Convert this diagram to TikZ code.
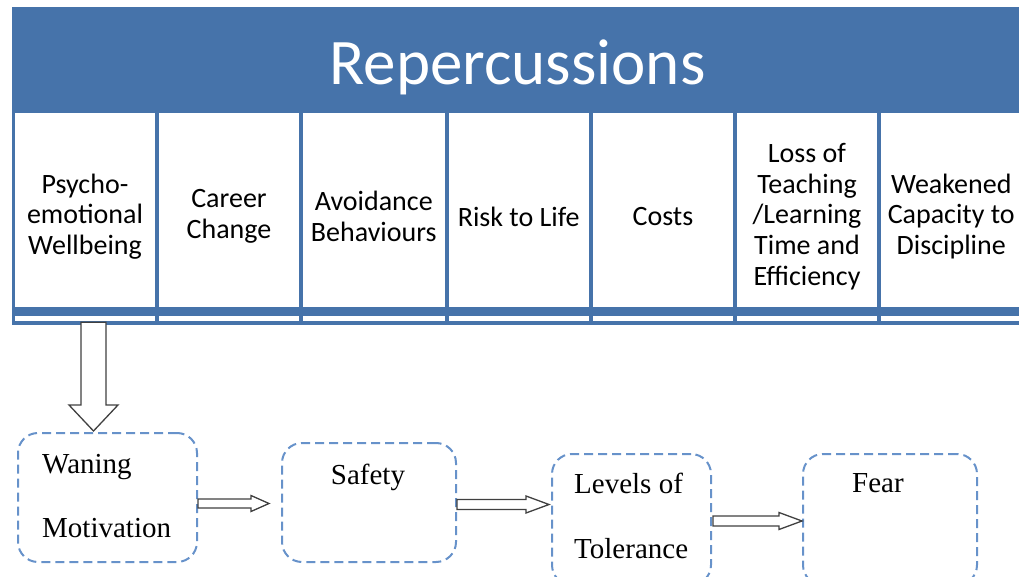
\documentclass[tikz,border=0pt]{standalone}
\usepackage{fontspec}
\setmainfont{Liberation Serif}
\newfontfamily\calib{Carlito}
\usetikzlibrary{calc}
\definecolor{hdrblue}{RGB}{70,115,170}
\definecolor{dashblue}{RGB}{103,146,202}
\definecolor{arrowgray}{RGB}{64,64,64}
\newcommand{\harrow}[5]{%
  \draw[blockarrow] let \p1=(#1), \p2=(#2) in
    (\x1,\y1+#3pt) -- (\x2-#5pt,\y1+#3pt) -- (\x2-#5pt,\y1+#4pt) -- (\x2,\y1)
    -- (\x2-#5pt,\y1-#4pt) -- (\x2-#5pt,\y1-#3pt) -- (\x1,\y1-#3pt) -- cycle;}
\newcommand{\varrow}[5]{%
  \draw[blockarrow] let \p1=(#1), \p2=(#2) in
    (\x1-#3pt,\y1) -- (\x1-#3pt,\y2+#5pt) -- (\x1-#4pt,\y2+#5pt) -- (\x1,\y2)
    -- (\x1+#4pt,\y2+#5pt) -- (\x1+#3pt,\y2+#5pt) -- (\x1+#3pt,\y1) -- cycle;}
\begin{document}
\begin{tikzpicture}[x=1pt,y=-1pt,
  titletext/.style={text=white,font=\calib\fontsize{65}{70}\selectfont,anchor=base,inner sep=0pt},
  cellbox/.style={fill=white,draw=none,minimum height=194pt,inner sep=0pt},
  celltext/.style={font=\calib\fontsize{28}{30.8}\selectfont,align=center,inner sep=0pt,text=black},
  dbox/.style={draw=dashblue,line width=2pt,dash pattern=on 9pt off 5pt,rounded corners=20pt,fill=none,inner sep=0pt},
  boxtext/.style={font=\fontsize{29}{32}\selectfont,inner sep=0pt,text=black},
  blockarrow/.style={draw=arrowgray,fill=white,line width=1.3pt,line join=miter}]
\useasboundingbox (0,0) rectangle (1019,577);
\clip (0,0) rectangle (1019,577);
% header band
\fill[hdrblue] (12,7) rectangle (1030,325);
\node[titletext] (title) at (517.5,85) {Repercussions};
% cells
\node[cellbox,minimum width=140pt] (c1) at (85,210) {};
\node[cellbox,minimum width=140pt] (c2) at (229,210) {};
\node[cellbox,minimum width=141.5pt] (c3) at (373.75,210) {};
\node[cellbox,minimum width=140.5pt] (c4) at (518.75,210) {};
\node[cellbox,minimum width=140pt] (c5) at (663,210) {};
\node[cellbox,minimum width=140pt] (c6) at (807,210) {};
\node[cellbox,minimum width=140.5pt] (c7) at (951.25,210) {};
\foreach \l/\r in {15/155,159/299,303/444.5,448.5/589,593/733,737/877,881/1021.5}
  \fill[white] (\l,316) rectangle (\r,321);
\node[celltext] (t1) at (85,216.5) {Psycho-\\emotional\\Wellbeing};
\node[celltext] (t2) at (229,216.5) {Career\\Change};
\node[celltext] (t3) at (373.75,216.5) {Avoidance\\Behaviours};
\node[celltext] (t4) at (518.75,216.5) {Risk to Life};
\node[celltext] (t5) at (663,216.5) {Costs};
\node[celltext] (t6) at (807,216.5) {Loss of\\Teaching\\/Learning\\Time and\\Efficiency};
\node[celltext] (t7) at (951.25,216.5) {Weakened\\Capacity to\\Discipline};
% dashed boxes
\node[dbox,minimum width=179pt,minimum height=129pt] (b1) at (107.5,497.5) {};
\node[dbox,minimum width=174pt,minimum height=119pt] (b2) at (369,502.5) {};
\node[dbox,minimum width=159pt,minimum height=131pt] (b3) at (631.5,519.5) {};
\node[dbox,minimum width=174pt,minimum height=131pt] (b4) at (890,519.5) {};
\node[boxtext,anchor=base west] (w1) at (42,473) {Waning};
\node[boxtext,anchor=base west] (w2) at (42,537) {Motivation};
\node[boxtext,anchor=base] (s1) at (368,484) {Safety};
\node[boxtext,anchor=base west] (l1) at (574,493) {Levels of};
\node[boxtext,anchor=base west] (l2) at (574,558) {Tolerance};
\node[boxtext,anchor=base] (f1) at (878,492) {Fear};
% arrows
\coordinate (d0) at ($(c1.south)+(8.5,15)$);
\coordinate (d1) at ($(b1.north)+(-14,-1)$);
\varrow{d0}{d1}{12.5}{24.5}{26}
\coordinate (a1s) at ($(b1.east)+(0,6)$);
\coordinate (a1e) at ($(b2.west)+(-12,1)$);
\harrow{a1s}{a1e}{4.5}{8}{18}
\coordinate (a2s) at ($(b2.east)+(0,2)$);
\coordinate (a2e) at ($(b3.west)+(-2,-15)$);
\harrow{a2s}{a2e}{5}{8.5}{23}
\coordinate (a3s) at ($(b3.east)+(1,1.5)$);
\coordinate (a3e) at (b4.west);
\harrow{a3s}{a3e}{5}{8.5}{23}
\end{tikzpicture}
\end{document}
